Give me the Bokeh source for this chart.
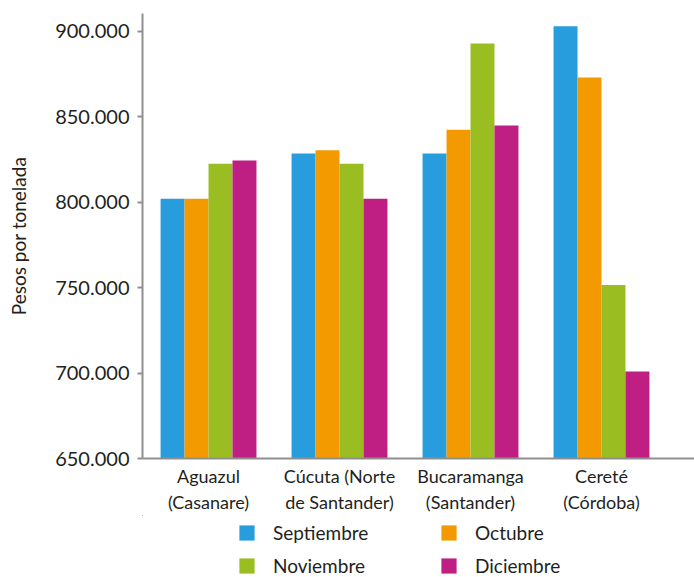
from bokeh.plotting import figure
from bokeh.layouts import column
from bokeh.models import ColumnDataSource, Range1d, FixedTicker, Legend, LegendItem
from bokeh.transform import dodge
from bokeh.embed import file_html
from bokeh.resources import INLINE

categories = ["Aguazul\n(Casanare)", "Cúcuta (Norte\nde Santander)",
              "Bucaramanga\n(Santander)", "Cereté\n(Córdoba)"]
months = ["Septiembre", "Octubre", "Noviembre", "Diciembre"]
septiembre = [802000, 828500, 828500, 903000]
octubre = [802000, 830500, 842500, 873000]
noviembre = [822500, 822500, 893000, 751500]
diciembre = [824500, 802000, 845000, 701000]
colors = ["#279DDE", "#F29A00", "#9ABD22", "#BF1F83"]
y_ticks = [650000, 700000, 750000, 800000, 850000, 900000]
y_tick_labels = ["650.000", "700.000", "750.000", "800.000", "850.000", "900.000"]
y_axis_label = "Pesos por tonelada"

FONT = "Lato"
TXT = "#231f20"
AX = "#8f8f8f"

xs = list(range(len(categories)))
src = ColumnDataSource(dict(x=xs, Septiembre=septiembre, Octubre=octubre,
                            Noviembre=noviembre, Diciembre=diciembre))

p = figure(width=694, height=515, output_backend="svg", toolbar_location=None,
           x_range=Range1d(-0.504, 3.71), y_range=Range1d(650000, 910500),
           min_border_left=142, min_border_right=0, min_border_top=13,
           min_border_bottom=56)
p.outline_line_color = None
p.xgrid.visible = False
p.ygrid.visible = False

bw = 0.183
offsets = [-1.5 * bw, -0.5 * bw, 0.5 * bw, 1.5 * bw]
for m, c, off in zip(months, colors, offsets):
    p.vbar(x=dodge("x", off, range=p.x_range), top=m, bottom=650000,
           width=bw, source=src, fill_color=c, line_color=None)

# y axis
p.yaxis.ticker = FixedTicker(ticks=y_ticks)
p.yaxis.major_label_overrides = {t: l for t, l in zip(y_ticks, y_tick_labels)}
p.yaxis.axis_label = y_axis_label
p.yaxis.axis_label_text_font = FONT
p.yaxis.axis_label_text_font_size = "19px"
p.yaxis.axis_label_text_font_style = "normal"
p.yaxis.axis_label_text_color = TXT
p.yaxis.axis_label_standoff = 22
p.yaxis.major_label_text_font = FONT
p.yaxis.major_label_text_font_size = "20px"
p.yaxis.major_label_text_color = TXT
p.yaxis.major_label_standoff = 8
p.yaxis.major_tick_in = 0
p.yaxis.major_tick_out = 5
p.yaxis.minor_tick_line_color = None
p.yaxis.axis_line_color = AX
p.yaxis.axis_line_width = 2
p.yaxis.major_tick_line_color = AX
p.yaxis.major_tick_line_width = 2

# x axis
p.xaxis.ticker = FixedTicker(ticks=xs)
p.xaxis.major_label_overrides = {x: c for x, c in zip(xs, categories)}
p.xaxis.major_label_text_font = FONT
p.xaxis.major_label_text_font_size = "18px"
p.xaxis.major_label_text_color = TXT
p.xaxis.major_label_standoff = 0
p.xaxis.major_tick_line_color = None
p.xaxis.minor_tick_line_color = None
p.xaxis.axis_line_color = AX
p.xaxis.axis_line_width = 2

# legend panel (second figure below the chart)
lg = figure(width=694, height=62, output_backend="svg", toolbar_location=None,
            x_range=Range1d(10, 11), y_range=Range1d(0, 1),
            x_axis_location=None, y_axis_location=None, min_border=0)
lg.outline_line_color = None
lg.xgrid.visible = False
lg.ygrid.visible = False
items = {}
for m, c, off in zip(months, colors, offsets):
    r = lg.vbar(x=dodge("x", off, range=lg.x_range), top=m, bottom=650000,
                width=bw, source=src, fill_color=c, line_color=None)
    items[m] = LegendItem(label=m, renderers=[r])

order = ["Septiembre", "Noviembre", "Octubre", "Diciembre"]
legend = Legend(items=[items[m] for m in order], orientation="vertical", ncols=2,
                location=(95, 0), glyph_width=19, glyph_height=19,
                label_standoff=17, label_height=23, label_width=156,
                spacing=10, padding=0, margin=0, border_line_color=None,
                background_fill_alpha=0,
                label_text_font=FONT, label_text_font_size="19px",
                label_text_color=TXT)
lg.add_layout(legend, "center")

open("out.html", "w").write(file_html(column(p, lg, spacing=0), INLINE))
